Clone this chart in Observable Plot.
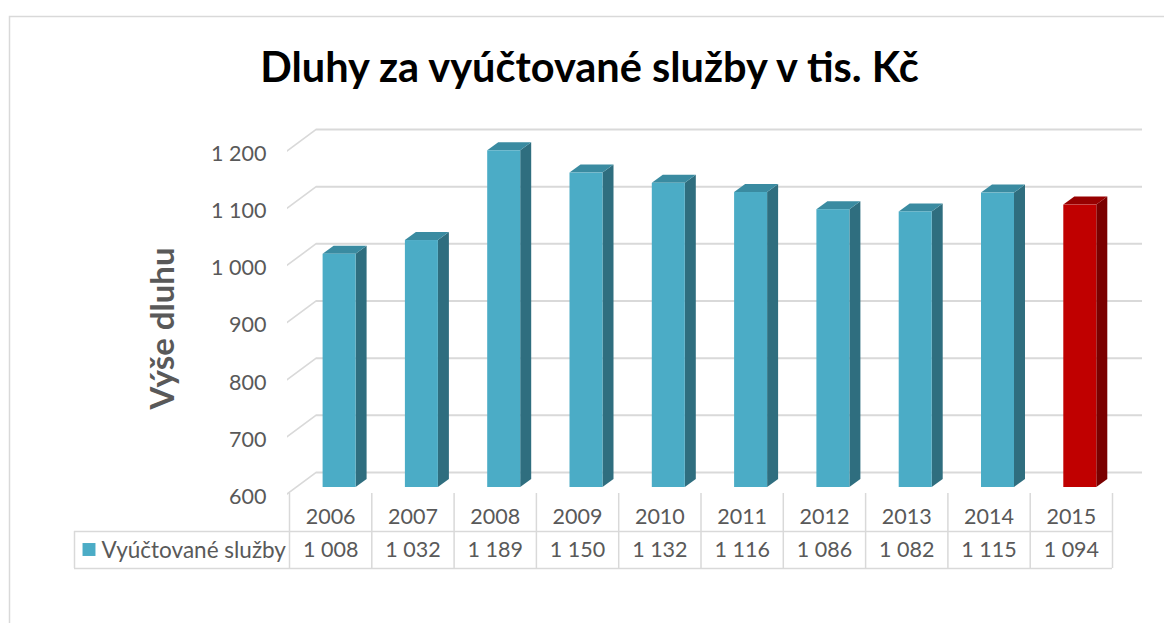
<!DOCTYPE html>
<html>
<head>
<meta charset="utf-8">
<script src="https://cdn.jsdelivr.net/npm/d3@7"></script>
<script src="https://cdn.jsdelivr.net/npm/@observablehq/plot@0.6"></script>
<style>
  body { margin: 0; background: #ffffff; }
  #chart svg { display: block; }
</style>
</head>
<body>
<div id="chart"></div>
<script>
// ---- data ----
const years = ["2006", "2007", "2008", "2009", "2010", "2011", "2012", "2013", "2014", "2015"];
const values = [1008, 1032, 1189, 1150, 1132, 1116, 1086, 1082, 1115, 1094];
const yTicks = [600, 700, 800, 900, 1000, 1100, 1200];
const seriesName = "Vyúčtované služby";
const titleText = "Dluhy za vyúčtované služby v tis. Kč";
const axisTitle = "Výše dluhu";
const highlightYear = "2015";

// ---- styles ----
const BLUE = {front: "#4BACC6", side: "#2F6E7F", top: "#3A8BA1"};
const RED = {front: "#C00000", side: "#7A0000", top: "#970000"};
const GRID = "#D9D9D9";
const TEXT = "#595959";
const FONT = "Lato, 'Open Sans', sans-serif";

const data = years.map((year, i) => ({year, value: values[i]}));
const fmt = d3.formatLocale({decimal: ",", thousands: "\u00a0", grouping: [3], currency: ["", " Kč"]}).format(",");
const pick = (d, face) => (d.year === highlightYear ? RED : BLUE)[face];

// geometry (pixels)
const W = 1164, H = 623;
const mL = 289, mR = 52, mT = 144, mB = 136;
const bw = (W - mL - mR) / years.length;   // band width
const frontL = 33.6, frontW = 33, depthX = 11, depthY = 8;

const chart = Plot.plot({
  width: W,
  height: H,
  marginLeft: mL, marginRight: mR, marginTop: mT, marginBottom: mB,
  style: {fontFamily: FONT, background: "#ffffff", overflow: "visible"},
  x: {type: "band", domain: years, padding: 0, round: false, axis: null},
  y: {type: "linear", domain: [600, 1200], clamp: true, axis: null},
  marks: [
    // chart area border
    Plot.frame({stroke: GRID, strokeWidth: 1.5, insetLeft: -(mL - 9), insetTop: -(mT - 16), insetRight: -80, insetBottom: -160}),
    // back wall gridlines
    Plot.ruleY(yTicks, {y: d => d, stroke: GRID, strokeWidth: 2, dy: -15, insetLeft: 27, insetRight: -30}),
    // side wall diagonals
    Plot.ruleY(yTicks, {y: d => d, stroke: GRID, strokeWidth: 2, dy: 6.5, insetLeft: -2, insetRight: (W - mR) - 316, ariaDescription: "diag"}),
    // bar side faces
    Plot.barY(data, {x: "year", y1: 600, y2: "value", fill: d => pick(d, "side"),
      insetLeft: frontL + frontW, insetRight: bw - frontL - frontW - depthX, ariaDescription: "side"}),
    // bar top faces
    Plot.barY(data, {x: "year", y1: "value", y2: "value", fill: d => pick(d, "top"),
      insetTop: -depthY, insetLeft: frontL, insetRight: bw - frontL - frontW, ariaDescription: "top"}),
    // bar front faces
    Plot.barY(data, {x: "year", y1: 600, y2: "value", fill: d => pick(d, "front"),
      insetLeft: frontL, insetRight: bw - frontL - frontW}),
    // y tick labels
    Plot.text(yTicks, {y: d => d, text: d => fmt(d), frameAnchor: "left", textAnchor: "end", lineAnchor: "middle",
      dx: -23, dy: 9.5, fontSize: 21.5, fill: TEXT}),
    // y axis title
    Plot.text([axisTitle], {text: d => d, frameAnchor: "left", textAnchor: "middle", lineAnchor: "middle", rotate: -90,
      dx: 163 - mL, dy: 328 - (mT + (H - mB - mT) / 2), fontSize: 33, fontWeight: "bold", fill: TEXT}),
    // chart title
    Plot.text([titleText], {text: d => d, frameAnchor: "top", textAnchor: "middle", lineAnchor: "middle",
      dx: 589 - (mL + (W - mR - mL) / 2), dy: 68 - mT, fontSize: 41.5, fontWeight: "bold", fill: "#000000"}),
    // data table: vertical lines
    Plot.ruleX(years, {x: d => d, dx: -bw / 2, insetTop: 493 - mT, insetBottom: (H - mB) - 568, stroke: GRID, strokeWidth: 1.5}),
    Plot.ruleX([years[years.length - 1]], {x: d => d, dx: bw / 2, insetTop: 493 - mT, insetBottom: (H - mB) - 568, stroke: GRID, strokeWidth: 1.5}),
    Plot.ruleX([years[0]], {x: d => d, dx: 74 - (mL + bw / 2), insetTop: 531 - mT, insetBottom: (H - mB) - 568, stroke: GRID, strokeWidth: 1.5}),
    // data table: horizontal lines
    Plot.ruleY([600], {y: d => d, dy: 531 - (H - mB), insetLeft: 74 - mL, stroke: GRID, strokeWidth: 1.5}),
    Plot.ruleY([600], {y: d => d, dy: 568 - (H - mB), insetLeft: 74 - mL, stroke: GRID, strokeWidth: 1.5}),
    // data table: year header row
    Plot.text(data, {x: "year", text: "year", frameAnchor: "bottom", lineAnchor: "middle", dy: 30, fontSize: 21.5, fill: TEXT}),
    // data table: value row
    Plot.text(data, {x: "year", text: d => fmt(d.value), frameAnchor: "bottom", lineAnchor: "middle", dy: 63, fontSize: 21.5, fill: TEXT}),
    // legend key
    Plot.dot([years[0]], {x: d => d, y: () => 600, symbol: "square", r: 7.3, fill: BLUE.front, stroke: "none",
      dx: 88.5 - (mL + bw / 2), dy: 62}),
    Plot.text([seriesName], {text: d => d, frameAnchor: "bottom-left", textAnchor: "start", lineAnchor: "middle",
      dx: 101 - mL, dy: 63, fontSize: 22.5, fill: TEXT})
  ]
});

// give 3D faces their oblique shape
const sel = d3.select(chart);
const angSide = Math.atan(-depthY / depthX) * 180 / Math.PI;
const angTop = Math.atan(-depthX / depthY) * 180 / Math.PI;
sel.selectAll('g[aria-description="side"] rect').each(function () {
  const x = +this.getAttribute("x");
  this.setAttribute("transform", `translate(${x},0) skewY(${angSide}) translate(${-x},0)`);
});
sel.selectAll('g[aria-description="top"] rect').each(function () {
  const yb = +this.getAttribute("y") + +this.getAttribute("height");
  this.setAttribute("transform", `translate(0,${yb}) skewX(${angTop}) translate(0,${-yb})`);
});
const angDiag = Math.atan(-21.5 / 29) * 180 / Math.PI;
sel.selectAll('g[aria-description="diag"] line').each(function () {
  const x = +this.getAttribute("x1");
  this.setAttribute("transform", `translate(${x},0) skewY(${angDiag}) translate(${-x},0)`);
});

document.getElementById("chart").appendChild(chart);
</script>
</body>
</html>
